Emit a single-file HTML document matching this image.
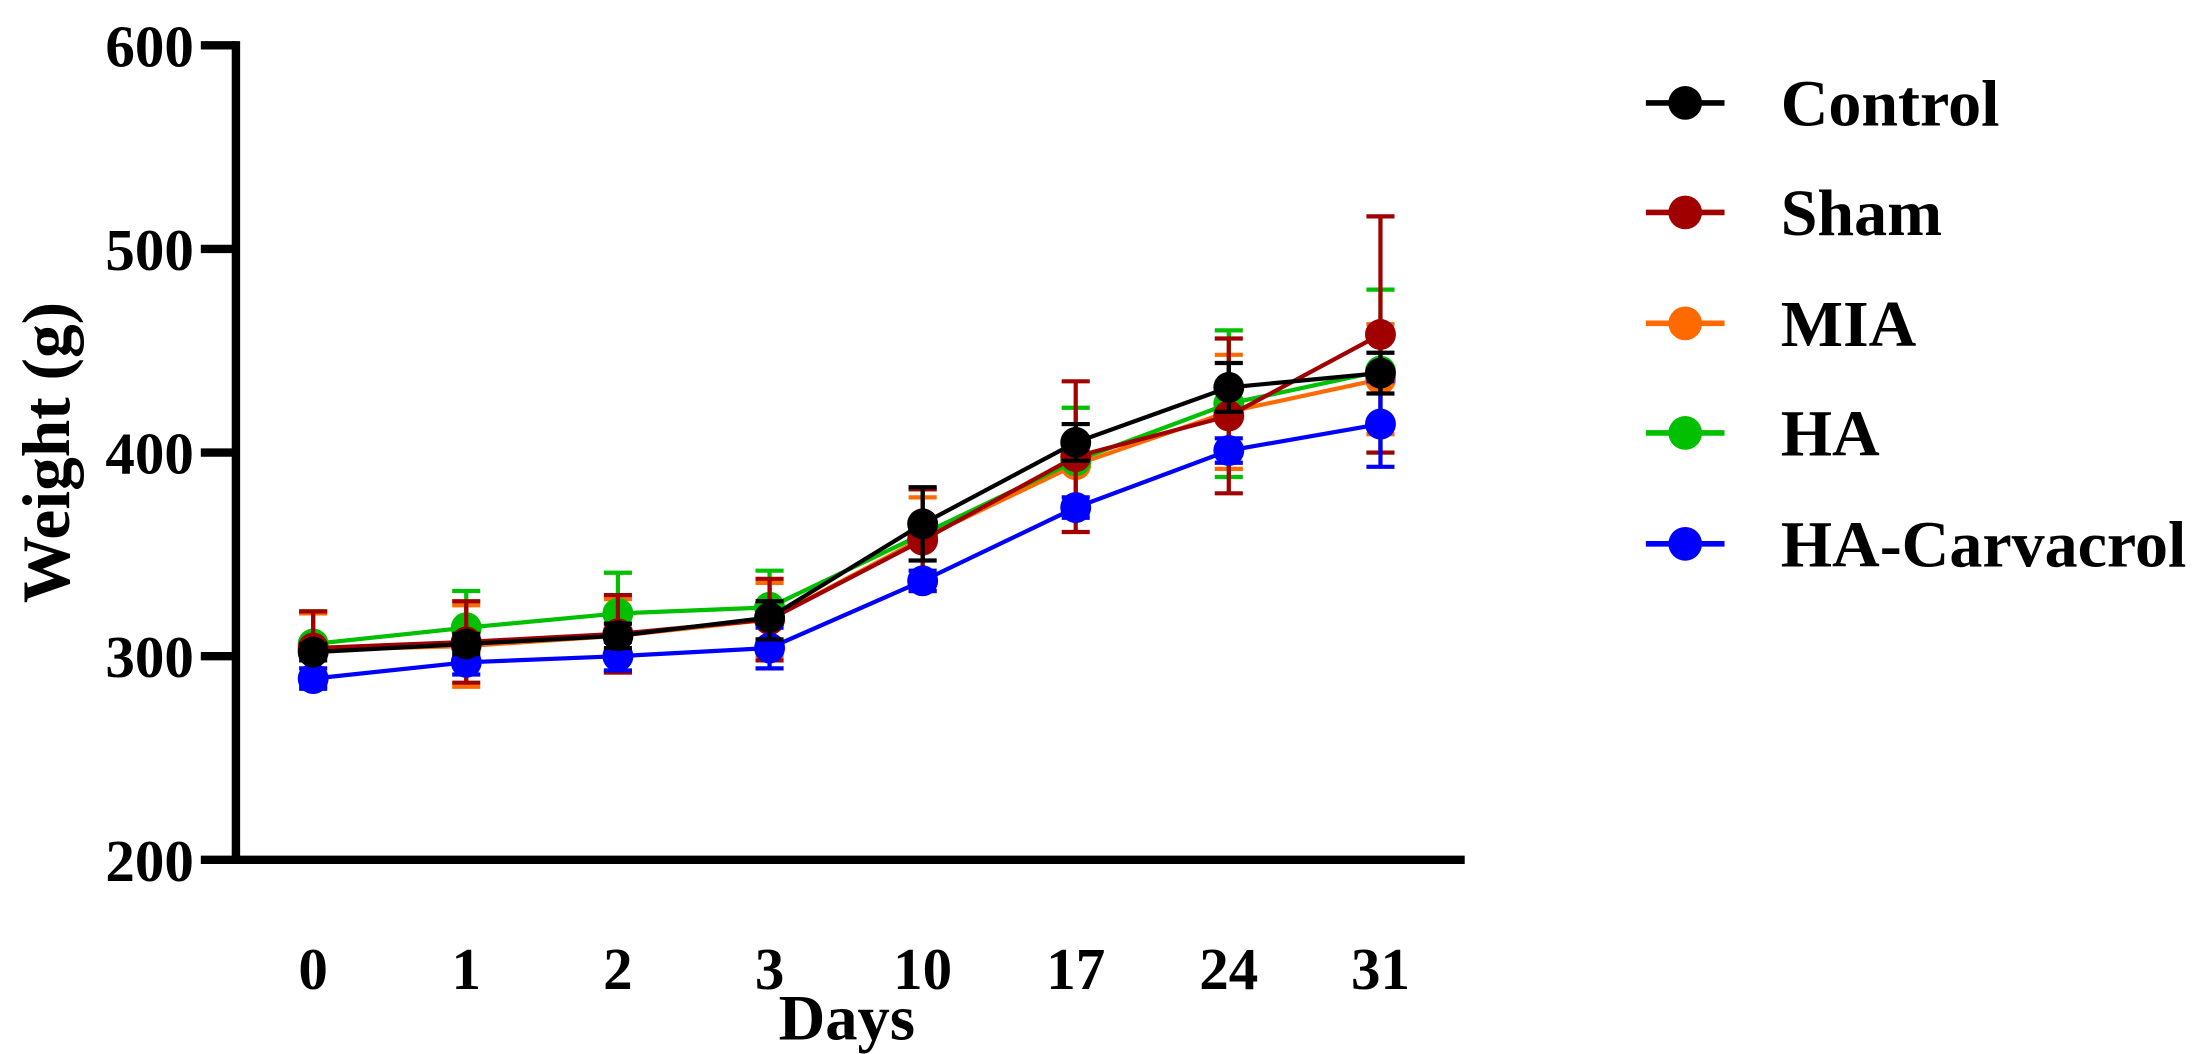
<!DOCTYPE html>
<html><head><style>body{margin:0;background:#fff}svg{display:block}</style></head>
<body>
<svg width="2202" height="1054" viewBox="0 0 1568 750" xmlns="http://www.w3.org/2000/svg" font-family="Liberation Serif, serif" font-weight="bold">
<rect width="1568" height="750" fill="#fff"/>
<g stroke="#000" stroke-width="6" fill="none">
<line x1="168" y1="29" x2="168" y2="615"/>
<line x1="165" y1="612" x2="1043" y2="612"/>
<line x1="143" y1="32" x2="168" y2="32"/>
<line x1="143" y1="177" x2="168" y2="177"/>
<line x1="143" y1="322" x2="168" y2="322"/>
<line x1="143" y1="467" x2="168" y2="467"/>
<line x1="143" y1="612" x2="168" y2="612"/>
</g>
<g font-size="42" text-anchor="end">
<text x="138" y="47">600</text><text x="138" y="192">500</text><text x="138" y="337">400</text><text x="138" y="482">300</text><text x="138" y="627">200</text>
</g>
<g font-size="42" text-anchor="middle">
<text x="223" y="704">0</text><text x="332" y="704">1</text><text x="440" y="704">2</text><text x="548" y="704">3</text><text x="657" y="704">10</text><text x="766" y="704">17</text><text x="875" y="704">24</text><text x="983" y="704">31</text>
<text x="603" y="740" font-size="46">Days</text>
<text transform="translate(49,322) rotate(-90)" font-size="48">Weight (g)</text>
</g>

<!-- MIA -->
<g stroke="#ff6a00" stroke-width="3" fill="none">
<polyline points="223,462.65 332,459.75 440,452.5 548,440.9 657,382.9 766,330.7 875,293 983,269.8"/>
<path d="M223 436.55V488.75M213 436.55H233M213 488.75H233 M332 430.75V488.75M322 430.75H342M322 488.75H342 M440 426.4V478.6M430 426.4H450M430 478.6H450 M548 414.8V467M538 414.8H558M538 467H558 M657 353.9V411.9M647 353.9H667M647 411.9H667 M766 301.7V359.7M756 301.7H776M756 359.7H776 M875 252.4V333.6M865 252.4H885M865 333.6H885 M983 230.65V308.95M973 230.65H993M973 308.95H993"/>
</g>
<g fill="#ff6a00"><circle cx="223" cy="462.65" r="11"/><circle cx="332" cy="459.75" r="11"/><circle cx="440" cy="452.5" r="11"/><circle cx="548" cy="440.9" r="11"/><circle cx="657" cy="382.9" r="11"/><circle cx="766" cy="330.7" r="11"/><circle cx="875" cy="293" r="11"/><circle cx="983" cy="269.8" r="11"/></g>

<!-- HA -->
<g stroke="#00c000" stroke-width="3" fill="none">
<polyline points="223,458.3 332,446.7 440,436.55 548,432.2 657,380 766,327.8 875,287.2 983,264"/>
<path d="M223 435.1V481.5M213 435.1H233M213 481.5H233 M332 420.6V472.8M322 420.6H342M322 472.8H342 M440 407.55V465.55M430 407.55H450M430 465.55H450 M548 406.1V458.3M538 406.1H558M538 458.3H558 M657 348.1V411.9M647 348.1H667M647 411.9H667 M766 290.1V365.5M756 290.1H776M756 365.5H776 M875 235V339.4M865 235H885M865 339.4H885 M983 206V322M973 206H993M973 322H993"/>
</g>
<g fill="#00c000"><circle cx="223" cy="458.3" r="11"/><circle cx="332" cy="446.7" r="11"/><circle cx="440" cy="436.55" r="11"/><circle cx="548" cy="432.2" r="11"/><circle cx="657" cy="380" r="11"/><circle cx="766" cy="327.8" r="11"/><circle cx="875" cy="287.2" r="11"/><circle cx="983" cy="264" r="11"/></g>

<!-- Sham -->
<g stroke="#a00000" stroke-width="3" fill="none">
<polyline points="223,461.2 332,456.85 440,451.05 548,440.9 657,384.35 766,324.9 875,295.9 983,237.9"/>
<path d="M223 435.1V487.3M213 435.1H233M213 487.3H233 M332 427.85V485.85M322 427.85H342M322 485.85H342 M440 423.5V478.6M430 423.5H450M430 478.6H450 M548 411.9V470M538 411.9H558M538 470H558 M657 348.1V420.6M647 348.1H667M647 420.6H667 M766 271.25V378.55M756 271.25H776M756 378.55H776 M875 240.8V351M865 240.8H885M865 351H885 M983 153.8V322M973 153.8H993M973 322H993"/>
</g>
<g fill="#a00000"><circle cx="223" cy="461.2" r="11"/><circle cx="332" cy="456.85" r="11"/><circle cx="440" cy="451.05" r="11"/><circle cx="548" cy="440.9" r="11"/><circle cx="657" cy="384.35" r="11"/><circle cx="766" cy="324.9" r="11"/><circle cx="875" cy="295.9" r="11"/><circle cx="983" cy="237.9" r="11"/></g>

<!-- HA-Carvacrol -->
<g stroke="#0000ff" stroke-width="3" fill="none">
<polyline points="223,482.95 332,471.35 440,467 548,461.2 657,413.35 766,361.15 875,320.55 983,301.7"/>
<path d="M223 475.7V490.2M213 475.7H233M213 490.2H233 M332 462.65V480.05M322 462.65H342M322 480.05H342 M440 456.85V477.15M430 456.85H450M430 477.15H450 M548 446.7V475.7M538 446.7H558M538 475.7H558 M657 406.1V420.6M647 406.1H667M647 420.6H667 M766 353.9V368.4M756 353.9H776M756 368.4H776 M875 311.85V329.25M865 311.85H885M865 329.25H885 M983 271.25V332.15M973 271.25H993M973 332.15H993"/>
</g>
<g fill="#0000ff"><circle cx="223" cy="482.95" r="11"/><circle cx="332" cy="471.35" r="11"/><circle cx="440" cy="467" r="11"/><circle cx="548" cy="461.2" r="11"/><circle cx="657" cy="413.35" r="11"/><circle cx="766" cy="361.15" r="11"/><circle cx="875" cy="320.55" r="11"/><circle cx="983" cy="301.7" r="11"/></g>

<!-- Control -->
<g stroke="#000" stroke-width="3" fill="none">
<polyline points="223,464.1 332,458.3 440,452.5 548,439.45 657,372.75 766,314.75 875,275.6 983,265.45"/>
<path d="M223 458.3V470M213 458.3H233M213 470H233 M332 451.05V465.55M322 451.05H342M322 465.55H342 M440 443.8V461.2M430 443.8H450M430 461.2H450 M548 427.85V455.05M538 427.85H558M538 455.05H558 M657 346.65V398.85M647 346.65H667M647 398.85H667 M766 301.7V327.8M756 301.7H776M756 327.8H776 M875 258.2V293M865 258.2H885M865 293H885 M983 250.95V279.95M973 250.95H993M973 279.95H993"/>
</g>
<g fill="#000"><circle cx="223" cy="464.1" r="11"/><circle cx="332" cy="458.3" r="11"/><circle cx="440" cy="452.5" r="11"/><circle cx="548" cy="439.45" r="11"/><circle cx="657" cy="372.75" r="11"/><circle cx="766" cy="314.75" r="11"/><circle cx="875" cy="275.6" r="11"/><circle cx="983" cy="265.45" r="11"/></g>

<!-- Legend -->
<g stroke-width="4">
<line x1="1172" y1="73" x2="1228" y2="73" stroke="#000"/><circle cx="1200" cy="73" r="12" fill="#000" stroke="none"/>
<line x1="1172" y1="151" x2="1228" y2="151" stroke="#a00000"/><circle cx="1200" cy="151" r="12" fill="#a00000" stroke="none"/>
<line x1="1172" y1="230" x2="1228" y2="230" stroke="#ff6a00"/><circle cx="1200" cy="230" r="12" fill="#ff6a00" stroke="none"/>
<line x1="1172" y1="308" x2="1228" y2="308" stroke="#00c000"/><circle cx="1200" cy="308" r="12" fill="#00c000" stroke="none"/>
<line x1="1172" y1="387" x2="1228" y2="387" stroke="#0000ff"/><circle cx="1200" cy="387" r="12" fill="#0000ff" stroke="none"/>
</g>
<g font-size="47">
<text x="1268" y="89">Control</text><text x="1268" y="167">Sham</text><text x="1268" y="246">MIA</text><text x="1268" y="324">HA</text><text x="1268" y="403">HA-Carvacrol</text>
</g>
</svg>
</body></html>
